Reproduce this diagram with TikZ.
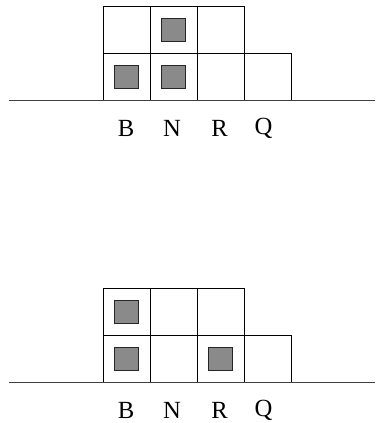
\documentclass[tikz,border=0pt]{standalone}
\usepackage{fontspec}
\setmainfont{Liberation Serif}
\usepackage{tikz}
\usetikzlibrary{positioning}
\definecolor{piecegray}{RGB}{138,138,138}
\tikzset{
	cellbox/.style={draw=black, line width=0.7pt},
	piece/.style={draw=black!85, fill=piecegray, line width=0.8pt},
	groundline/.style={draw=black!75, line width=0.8pt},
	colname/.style={font=\fontsize{18.5}{20}\selectfont, inner sep=0pt}
}
\begin{document}
\begin{tikzpicture}[x=0.75pt, y=-0.75pt]
	\useasboundingbox (0,0) rectangle (375,423);
	\pgfmathsetmacro{\cellw}{47}
	\pgfmathsetmacro{\leftx}{103}
	\pgfmathsetmacro{\piecew}{23.5}
	
	% upper position
	\begin{scope}[yshift=-100.7*0.75pt]
		\foreach \i in {0,...,3}
			\draw[cellbox] (\leftx+\i*\cellw,0) rectangle ++(\cellw,-\cellw);
		\foreach \i in {0,...,2}
			\draw[cellbox] (\leftx+\i*\cellw,-\cellw) rectangle ++(\cellw,-\cellw);
		\draw[groundline] (9,0) -- (375,0);
		\draw[piece] (\leftx+0.5*\cellw-0.5*\piecew,-0.5*\cellw-0.5*\piecew) rectangle ++(\piecew,\piecew);
		\draw[piece] (\leftx+1.5*\cellw-0.5*\piecew,-0.5*\cellw-0.5*\piecew) rectangle ++(\piecew,\piecew);
		\draw[piece] (\leftx+1.5*\cellw-0.5*\piecew,-1.5*\cellw-0.5*\piecew) rectangle ++(\piecew,\piecew);
		\node[colname] (b1) at (\leftx+0.5*\cellw-0.5,28) {B};
		\node[colname] (n1) at (\leftx+1.5*\cellw-1.5,28) {N};
		\node[colname] (r1) at (\leftx+2.5*\cellw-1,28) {R};
		\node[colname] (q1) at (\leftx+3.5*\cellw-4,28) {Q};
	\end{scope}
	
	% lower position
	\begin{scope}[yshift=-382.3*0.75pt]
		\foreach \i in {0,...,3}
			\draw[cellbox] (\leftx+\i*\cellw,0) rectangle ++(\cellw,-\cellw);
		\foreach \i in {0,...,2}
			\draw[cellbox] (\leftx+\i*\cellw,-\cellw) rectangle ++(\cellw,-\cellw);
		\draw[groundline] (9,0) -- (375,0);
		\draw[piece] (\leftx+0.5*\cellw-0.5*\piecew,-0.5*\cellw-0.5*\piecew) rectangle ++(\piecew,\piecew);
		\draw[piece] (\leftx+0.5*\cellw-0.5*\piecew,-1.5*\cellw-0.5*\piecew) rectangle ++(\piecew,\piecew);
		\draw[piece] (\leftx+2.5*\cellw-0.5*\piecew,-0.5*\cellw-0.5*\piecew) rectangle ++(\piecew,\piecew);
		\node[colname] (b2) at (\leftx+0.5*\cellw-0.5,28) {B};
		\node[colname] (n2) at (\leftx+1.5*\cellw-1.5,28) {N};
		\node[colname] (r2) at (\leftx+2.5*\cellw-1,28) {R};
		\node[colname] (q2) at (\leftx+3.5*\cellw-4,28) {Q};
	\end{scope}
\end{tikzpicture}
\end{document}
